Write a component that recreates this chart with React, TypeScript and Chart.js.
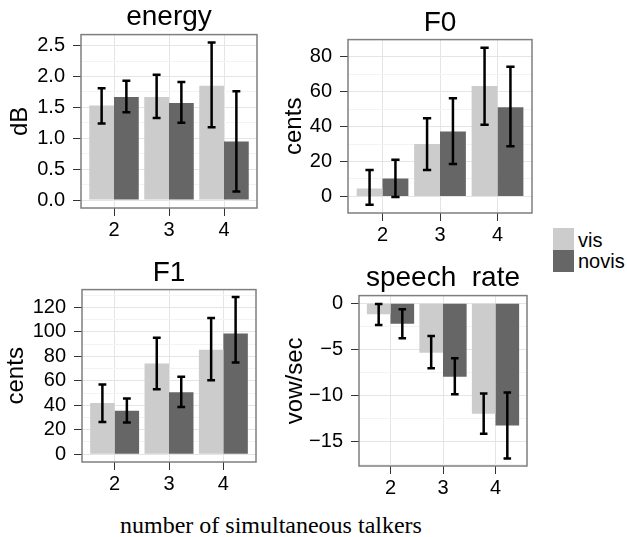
import React, { useEffect, useRef } from "react";
import { Chart, registerables } from "chart.js";

Chart.register(...registerables);

// ---------- data ----------
const categories = [2, 3, 4];
const seriesNames = ["vis", "novis"];
const xAxisTitle = "number of simultaneous talkers";

const energyVis = [1.53, 1.67, 1.85];
const energyVisLo = [1.24, 1.33, 1.18];
const energyVisHi = [1.81, 2.03, 2.55];
const energyNovis = [1.67, 1.57, 0.95];
const energyNovisLo = [1.42, 1.25, 0.14];
const energyNovisHi = [1.93, 1.91, 1.76];
const energyTicks = [0, 0.5, 1.0, 1.5, 2.0, 2.5];

const f0Vis = [4.6, 30.0, 63.2];
const f0VisLo = [-4.8, 15.1, 41.0];
const f0VisHi = [15.1, 44.7, 85.2];
const f0Novis = [10.3, 37.2, 51.0];
const f0NovisLo = [-0.4, 18.5, 28.7];
const f0NovisHi = [21.0, 56.2, 74.3];
const f0Ticks = [0, 20, 40, 60, 80];

const f1Vis = [41.8, 74.2, 85.5];
const f1VisLo = [26.4, 53.1, 60.4];
const f1VisHi = [56.9, 95.2, 111.4];
const f1Novis = [35.6, 50.7, 98.7];
const f1NovisLo = [25.9, 38.6, 75.0];
const f1NovisHi = [45.6, 63.4, 128.6];
const f1Ticks = [0, 20, 40, 60, 80, 100, 120];

const rateVis = [-1.19, -5.35, -11.96];
const rateVisLo = [-2.35, -7.04, -14.13];
const rateVisHi = [-0.07, -3.54, -9.79];
const rateNovis = [-2.2, -7.95, -13.26];
const rateNovisLo = [-3.79, -9.86, -16.83];
const rateNovisHi = [-0.65, -5.96, -9.68];
const rateTicks = [-15, -10, -5, 0];

// ---------- style ----------
const SANS = "'Liberation Sans', Arial, Helvetica, sans-serif";
const SERIF = "'Liberation Serif', 'Times New Roman', serif";
const VIS_COLOR = "#CCCCCC";
const NOVIS_COLOR = "#666666";
const MAJOR = "#E5E5E5";
const MINOR = "#F3F3F3";
const TICK = "#333333";
const BORDER = "#7F7F7F";

type Panel = {
  title: string;
  yTitle: string;
  vis: number[]; visLo: number[]; visHi: number[];
  novis: number[]; novisLo: number[]; novisHi: number[];
  yMin: number; yMax: number; yTicks: number[]; decimals: number;
  left: number; top: number; width: number; height: number;
  yAxisWidth: number; titlePadTop: number; titlePadBottom: number;
};

const panels: Panel[] = [
  {
    title: "energy", yTitle: "dB",
    vis: energyVis, visLo: energyVisLo, visHi: energyVisHi,
    novis: energyNovis, novisLo: energyNovisLo, novisHi: energyNovisHi,
    yMin: -0.1275, yMax: 2.6775, yTicks: energyTicks, decimals: 1,
    left: 4, top: 0, width: 257, height: 248, yAxisWidth: 77, titlePadTop: 0, titlePadBottom: 1,
  },
  {
    title: "F0", yTitle: "cents",
    vis: f0Vis, visLo: f0VisLo, visHi: f0VisHi,
    novis: f0Novis, novisLo: f0NovisLo, novisHi: f0NovisHi,
    yMin: -9.5, yMax: 89.8, yTicks: f0Ticks, decimals: 0,
    left: 278, top: 6, width: 258, height: 247, yAxisWidth: 70, titlePadTop: 0, titlePadBottom: 0,
  },
  {
    title: "F1", yTitle: "cents",
    vis: f1Vis, visLo: f1VisLo, visHi: f1VisHi,
    novis: f1Novis, novisLo: f1NovisLo, novisHi: f1NovisHi,
    yMin: -6.4, yMax: 134.6, yTicks: f1Ticks, decimals: 0,
    left: 0, top: 256, width: 260, height: 246, yAxisWidth: 82, titlePadTop: 0, titlePadBottom: 0,
  },
  {
    title: "speech  rate", yTitle: "vow/sec",
    vis: rateVis, visLo: rateVisLo, visHi: rateVisHi,
    novis: rateNovis, novisLo: rateNovisLo, novisHi: rateNovisHi,
    yMin: -17.64, yMax: 0.84, yTicks: rateTicks, decimals: 0,
    left: 279, top: 261, width: 252, height: 245, yAxisWidth: 80, titlePadTop: 0, titlePadBottom: 1,
  },
];

function buildYTicks(majors: number[], min: number, max: number) {
  const step = majors[1] - majors[0];
  const out: any[] = majors.map((v) => ({ value: v, minor: false }));
  for (let i = -1; i < majors.length; i++) {
    const m = majors[0] + (i + 0.5) * step;
    if (m >= min && m <= max) out.push({ value: m, minor: true });
  }
  out.sort((a, b) => a.value - b.value);
  return out;
}

function fmt(v: number, d: number) {
  const s = v.toFixed(d);
  return s.replace("-", "\u2212");
}

const errorBarPlugin = {
  id: "errorBars",
  afterDatasetsDraw(chart: any) {
    const ctx = chart.ctx;
    const y = chart.scales.y;
    chart.data.datasets.forEach((ds: any, di: number) => {
      const meta = chart.getDatasetMeta(di);
      meta.data.forEach((bar: any, i: number) => {
        const x = bar.x;
        const half = (bar.width * 0.32) / 2;
        const yLo = y.getPixelForValue(ds.lo[i]);
        const yHi = y.getPixelForValue(ds.hi[i]);
        ctx.save();
        ctx.strokeStyle = "#000000";
        ctx.lineWidth = 2.5;
        ctx.lineCap = "butt";
        ctx.beginPath();
        ctx.moveTo(x, yLo);
        ctx.lineTo(x, yHi);
        ctx.moveTo(x - half, yLo);
        ctx.lineTo(x + half, yLo);
        ctx.moveTo(x - half, yHi);
        ctx.lineTo(x + half, yHi);
        ctx.stroke();
        ctx.restore();
      });
    });
  },
};

const panelBorderPlugin = {
  id: "panelBorder",
  afterDraw(chart: any) {
    const { ctx, chartArea } = chart;
    ctx.save();
    ctx.strokeStyle = BORDER;
    ctx.lineWidth = 1.5;
    ctx.strokeRect(chartArea.left, chartArea.top, chartArea.right - chartArea.left, chartArea.bottom - chartArea.top);
    ctx.restore();
  },
};

function PanelChart({ p }: { p: Panel }) {
  const ref = useRef<HTMLCanvasElement | null>(null);
  useEffect(() => {
    if (!ref.current) return;
    const yTickList = buildYTicks(p.yTicks, p.yMin, p.yMax);
    const chart = new Chart(ref.current, {
      type: "bar",
      data: {
        datasets: [
          {
            label: seriesNames[0],
            data: categories.map((c, i) => ({ x: c, y: p.vis[i] })),
            backgroundColor: VIS_COLOR,
            lo: p.visLo,
            hi: p.visHi,
          } as any,
          {
            label: seriesNames[1],
            data: categories.map((c, i) => ({ x: c, y: p.novis[i] })),
            backgroundColor: NOVIS_COLOR,
            lo: p.novisLo,
            hi: p.novisHi,
          } as any,
        ],
      },
      options: {
        responsive: false,
        animation: false,
        events: [],
        categoryPercentage: 0.9,
        barPercentage: 1.0,
        layout: { padding: { left: 0, right: 4, top: 0, bottom: 0 } },
        plugins: {
          legend: { display: false },
          tooltip: { enabled: false },
          title: {
            display: true,
            fullSize: false,
            text: p.title,
            color: "#000000",
            font: { family: SANS, size: 28, weight: "normal", lineHeight: 1.2 },
            padding: { top: p.titlePadTop, bottom: p.titlePadBottom },
          },
        },
        scales: {
          x: {
            type: "linear",
            min: 1.4,
            max: 4.6,
            bounds: "data",
            offset: false,
            afterBuildTicks: (s: any) => {
              s.ticks = categories.map((v) => ({ value: v }));
            },
            afterFit: (s: any) => {
              s.height = 40;
            },
            grid: { offset: false, color: MAJOR, lineWidth: 1, tickLength: 8, tickColor: TICK, tickWidth: 1 },
            border: { display: false },
            ticks: {
              color: "#000000",
              font: { family: SANS, size: 20 },
              padding: 2,
              autoSkip: false,
              maxRotation: 0,
              callback: (v: any) => String(v),
            },
          },
          y: {
            type: "linear",
            min: p.yMin,
            max: p.yMax,
            bounds: "data",
            afterBuildTicks: (s: any) => {
              s.ticks = yTickList.map((t) => ({ ...t }));
            },
            afterFit: (s: any) => {
              s.width = p.yAxisWidth;
            },
            grid: {
              color: (c: any) => (c.tick && c.tick.minor ? MINOR : MAJOR),
              lineWidth: 1,
              tickLength: 8,
              tickColor: (c: any) => (c.tick && c.tick.minor ? "rgba(0,0,0,0)" : TICK),
              tickWidth: 1,
            },
            border: { display: false },
            ticks: {
              color: "#000000",
              font: { family: SANS, size: 20 },
              padding: 8,
              autoSkip: false,
              callback: (v: any, i: number, ticks: any[]) => (ticks[i] && ticks[i].minor ? "" : fmt(Number(v), p.decimals)),
            },
            title: {
              display: true,
              text: p.yTitle,
              color: "#000000",
              font: { family: SANS, size: 24, weight: "normal", lineHeight: 1.2 },
              padding: { top: 2, bottom: 0 },
            },
          },
        },
      } as any,
      plugins: [errorBarPlugin, panelBorderPlugin],
    });
    return () => chart.destroy();
  }, [p]);
  return (
    <canvas
      ref={ref}
      width={p.width}
      height={p.height}
      style={{ position: "absolute", left: p.left, top: p.top, width: p.width, height: p.height }}
    />
  );
}

export default function App() {
  return (
    <div style={{ position: "absolute", left: 0, top: 0, width: 627, height: 537, background: "#FFFFFF" }}>
      {panels.map((p) => (
        <PanelChart key={p.title} p={p} />
      ))}
      <div style={{ position: "absolute", left: 553, top: 228, width: 21, height: 22, background: VIS_COLOR }} />
      <div style={{ position: "absolute", left: 553, top: 250, width: 21, height: 22, background: NOVIS_COLOR }} />
      <div style={{ position: "absolute", left: 578, top: 230, fontFamily: SANS, fontSize: 20, lineHeight: "20px", color: "#000", whiteSpace: "nowrap" }}>
        {seriesNames[0]}
      </div>
      <div style={{ position: "absolute", left: 578, top: 250.5, fontFamily: SANS, fontSize: 20, lineHeight: "20px", color: "#000", whiteSpace: "nowrap" }}>
        {seriesNames[1]}
      </div>
      <div style={{ position: "absolute", left: 120, top: 513, fontFamily: SERIF, fontSize: 24, lineHeight: "24px", color: "#000", whiteSpace: "nowrap" }}>
        {xAxisTitle}
      </div>
    </div>
  );
}
